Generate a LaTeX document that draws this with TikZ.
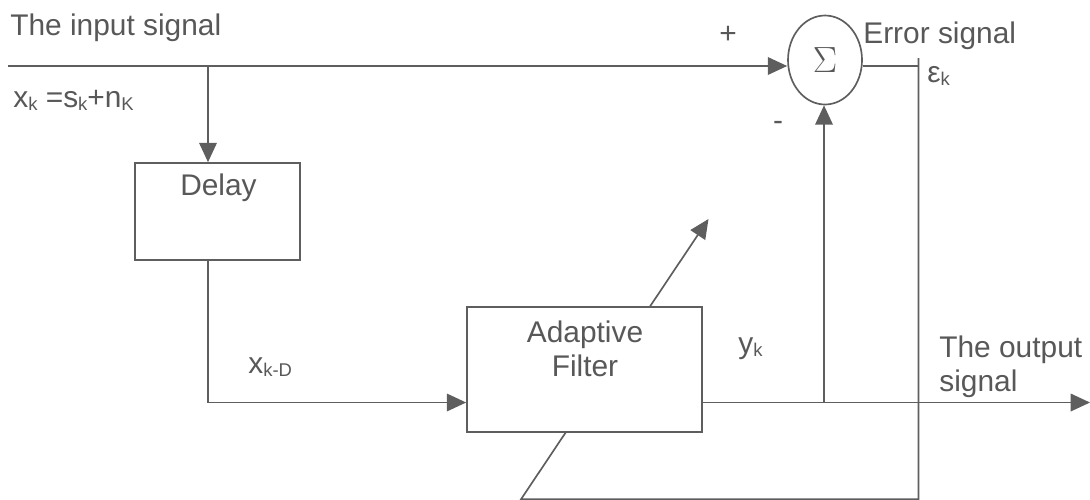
\documentclass[tikz,border=0pt]{standalone}
\usepackage{fontspec}
\setmainfont{Liberation Sans}
\usepackage{tikz}
\usetikzlibrary{shapes.geometric,arrows.meta,positioning,backgrounds,calc}
\definecolor{linegray}{HTML}{5E5E5E}
\definecolor{textgray}{HTML}{585858}
\newcommand{\lowidx}[1]{\raisebox{-0.25ex}{\fontsize{10.5}{12}\selectfont #1}}

\begin{document}
\begin{tikzpicture}[
    lbl/.style={font=\fontsize{17}{19.5}\selectfont, text=textgray, inner sep=0pt},
    blk/.style={draw=linegray, line width=0.95pt, fill=white, inner sep=0pt},
    sumnode/.style={draw=linegray, line width=0.95pt, ellipse, minimum width=1.48cm,
                    minimum height=1.78cm, inner sep=0pt, text=textgray,
                    font=\fontsize{21}{24}\selectfont},
    conn/.style={draw=linegray, line width=0.95pt},
    arr/.style={conn, -{Triangle[length=11pt, width=10pt]}}
]
% --- frame ---
\useasboundingbox (0,0) rectangle (21.8,-9.98);

% --- blocks ---
\node[blk, minimum width=3.3cm, minimum height=1.94cm] (delay) at (4.35,-4.23) {};
\node[blk, minimum width=4.7cm, minimum height=2.5cm] (filter) at (11.69,-7.39) {};
\node[sumnode] (sum) at (16.5,-1.2) {$\Sigma$};

% --- labels ---
\node[lbl, anchor=base west] (intxt) at (0.2,-0.7) {The input signal};
\node[lbl, anchor=base west] (xk) at (0.26,-2.14) {x\lowidx{k} =s\lowidx{k}+n\lowidx{K}};
\node[lbl, anchor=base] (delaytxt) at (4.37,-3.9) {Delay};
\node[lbl, align=center, anchor=north] (filtxt) at (11.7,-6.4) {Adaptive\\Filter};
\node[lbl, anchor=base west] (xkd) at (4.96,-7.46) {x\lowidx{k-D}};
\node[lbl, anchor=base west] (yk) at (14.76,-7.06) {y\lowidx{k}};
\node[lbl, align=left, anchor=north west] (outtxt) at (18.78,-6.7) {The output\\signal};
\node[lbl, anchor=base west] (errtxt) at (17.26,-0.86) {Error signal};
\node[lbl, anchor=base west] (ek) at (18.54,-1.64) {ε\lowidx{k}};
\node[lbl] (plus) at (14.56,-0.7) {+};
\node[lbl] (minus) at (15.56,-2.52) {-};

% --- signal points ---
\coordinate (in) at (0.16,-1.32);
\coordinate (br) at (4.16,-1.32);
\coordinate (fin) at (filter.west |- 0,-8.05);
\coordinate (out) at (21.8,-8.05);
\coordinate (tap) at (16.48,-8.05);
\coordinate (etop) at (18.37,-1.16);
\coordinate (ebot) at (18.37,-9.985);
\coordinate (abot) at (10.42,-9.985);
\coordinate (atip) at (14.17,-4.38);

% --- connections ---
\draw[arr] (in) -- (in -| sum.west);
\draw[arr] (br) -- (br |- delay.north);
\draw[arr] (br |- delay.south) -- (br |- fin) -- (fin);
\draw[arr] (fin -| filter.east) -- (out);
\draw[arr] (tap) -- (tap |- sum.south);
\draw[conn] (in -| sum.east) -- (in -| etop);

% --- adaptation path (behind the filter) ---
\begin{pgfonlayer}{background}
\draw[arr] (etop) -- (ebot) -- (abot) -- (atip);
\end{pgfonlayer}

\end{tikzpicture}
\end{document}
